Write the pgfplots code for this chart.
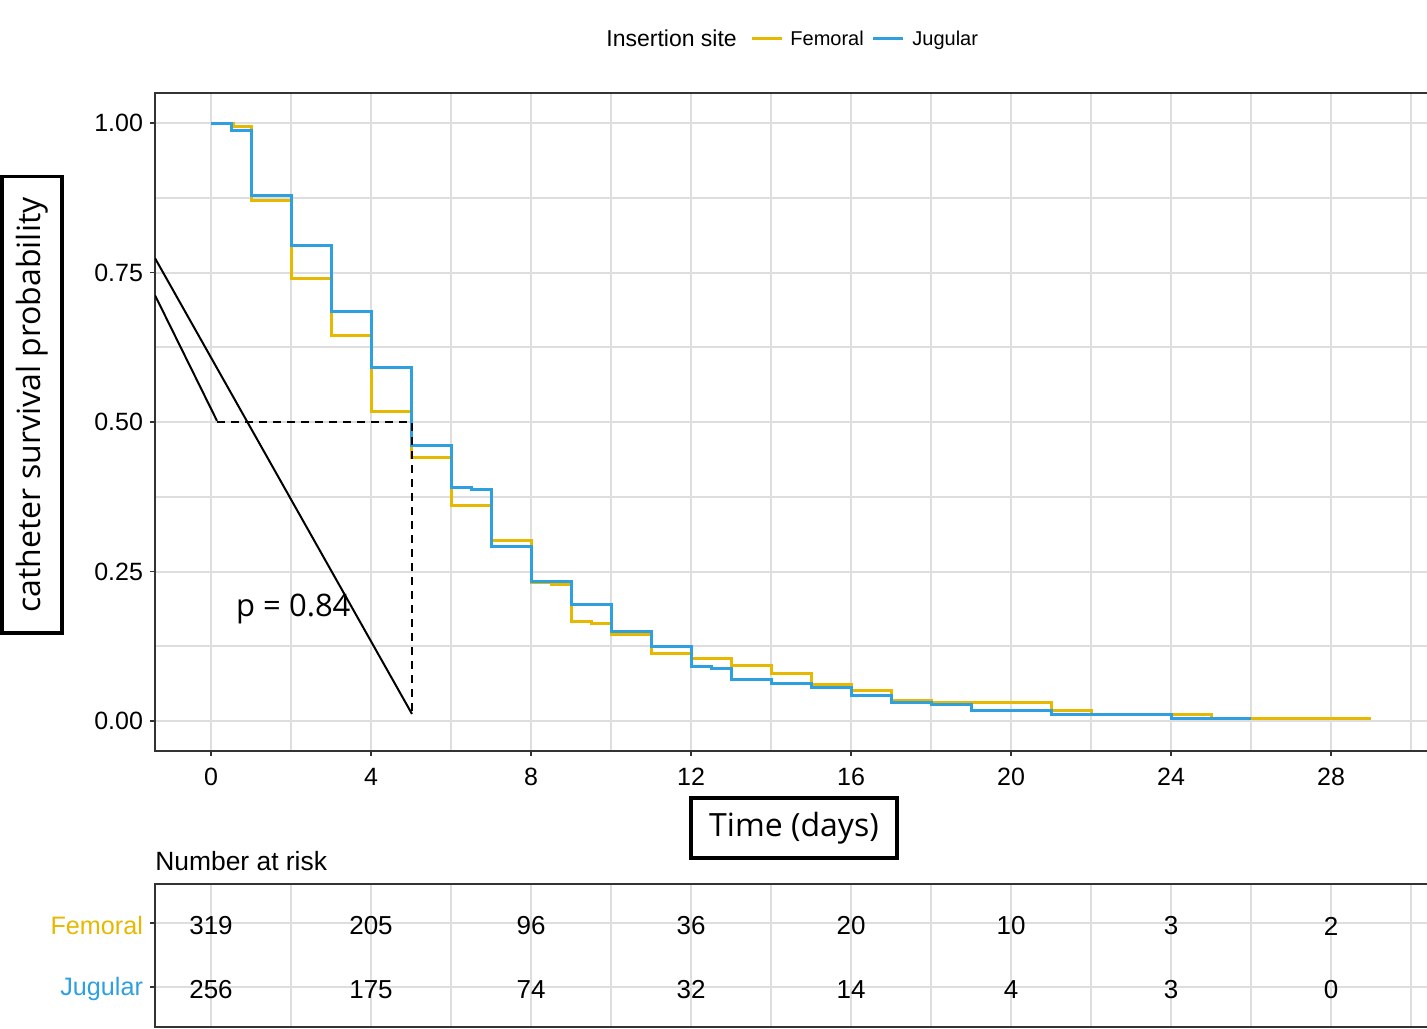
\documentclass[border=0pt]{standalone}
\usepackage{pgfplots}
\pgfplotsset{compat=1.18}
\usepackage{fontspec}
\setmainfont{Liberation Sans}
\newfontfamily\seg{Open Sans}
\definecolor{fem}{HTML}{E7B800}
\definecolor{jug}{HTML}{2E9FDF}
\definecolor{gridc}{HTML}{DEDEDE}
\definecolor{framec}{HTML}{333333}
\begin{document}
\begin{tikzpicture}
\useasboundingbox (0,0) rectangle (713.5pt,-514pt);
\begin{axis}[
  at={(77.5pt,-375.5pt)}, anchor=south west,
  scale only axis, width=638pt, height=329pt,
  xmin=-1.4, xmax=30.5, ymin=-0.0502, ymax=1.0502,
  xtick={0,4,...,28}, minor xtick={2,6,...,30},
  ytick={0,0.25,0.5,0.75,1}, minor ytick={0.125,0.375,0.625,0.875},
  grid=both, grid style={gridc, line width=1pt}, minor grid style={gridc, line width=1pt},
  axis line style={framec, line width=0.7pt},
  tick align=outside, xtick pos=bottom, ytick pos=left,
  major tick length=2.5pt, minor tick length=0pt,
  tick style={framec, line width=0.7pt},
  ticklabel style={font=\fontsize{12.5}{15}\selectfont},
  xticklabel style={yshift=-2.5pt},
  /pgf/number format/assume math mode=true,
  yticklabel style={/pgf/number format/.cd, fixed, fixed zerofill, precision=2},
  xlabel={Time (days)},
  xlabel style={at={(axis description cs:0.5008,-0.117)}, anchor=center, draw=black, line width=1.8pt,
    font=\seg\fontsize{16}{19}\selectfont, minimum width=103pt, minimum height=30pt, inner sep=0pt},
  ylabel={catheter survival probability},
  ylabel style={at={(axis description cs:-0.0964,0.526)}, anchor=center, draw=black, line width=1.6pt,
    font=\seg\fontsize{16}{19}\selectfont, minimum width=228pt, minimum height=30pt, inner sep=0pt},
]
\addplot[const plot, fem, line width=1.5pt] coordinates {
(0,1.0) (0.55,0.994) (1,0.871) (2,0.740) (3,0.644) (4,0.517) (5,0.441) (6,0.361) (7,0.302)
(8,0.231) (8.5,0.228) (9,0.167) (9.5,0.163) (10,0.144) (11,0.113) (12,0.104) (13,0.0925)
(14,0.080) (15,0.061) (16,0.051) (17,0.034) (18,0.031) (21,0.018) (22,0.0105) (25,0.004) (29,0.004)};
\addplot[const plot, jug, line width=1.5pt] coordinates {
(0,1.0) (0.52,0.987) (1,0.879) (2,0.795) (3,0.684) (4,0.591) (5,0.460) (6,0.390) (6.5,0.387)
(7,0.291) (8,0.233) (9,0.195) (10,0.150) (11,0.124) (12,0.091) (12.5,0.087) (13,0.070)
(14,0.062) (15,0.056) (16,0.042) (17,0.031) (18,0.028) (19,0.017) (21,0.0117) (24,0.0045) (26,0.0045)};
\addplot[black, line width=1pt] coordinates {(-1.4,0.774) (5.025,0.0117)};
\addplot[black, line width=1pt] coordinates {(-1.4,0.712) (0.15,0.502)};
\addplot[black, line width=1pt, dash pattern=on 4pt off 3pt] coordinates {(0.15,0.5) (5.02,0.5) (5.02,0.0117)};
\node[anchor=base west, inner sep=0pt, font=\seg\fontsize{15.5}{18}\selectfont] at (axis cs:0.62,0.174) {p = 0.84};
\end{axis}
\begin{axis}[
  at={(77.5pt,-513.5pt)}, anchor=south west,
  scale only axis, width=638pt, height=71.5pt,
  xmin=-1.4, xmax=30.5, ymin=-0.625, ymax=1.609,
  xtick={0,4,...,28}, minor xtick={2,6,...,30}, xticklabels={},
  ytick={0,1}, yticklabels={\textcolor{jug}{Jugular},\textcolor{fem}{Femoral}},
  grid=both, grid style={gridc, line width=1pt}, minor grid style={gridc, line width=1pt},
  axis line style={framec, line width=0.7pt},
  tick align=outside, ytick pos=left,
  major tick length=2.5pt, minor tick length=0pt,
  tick style={framec, line width=0.7pt},
  xtick style={draw=none},
  yticklabel style={font=\fontsize{12.6}{15}\selectfont, yshift=-1pt},
  title={Number at risk},
  title style={at={(axis description cs:0,1)}, anchor=base west, yshift=1pt, inner sep=0pt,
    font=\fontsize{13.2}{16}\selectfont},
]
\addplot[only marks, mark=none, nodes near coords, point meta=explicit symbolic,
  every node near coord/.append style={anchor=center, yshift=-1.5pt, text=black, font=\fontsize{13}{15}\selectfont}]
  coordinates {(0,1)[319] (4,1)[205] (8,1)[96] (12,1)[36] (16,1)[20] (20,1)[10] (24,1)[3] (28,1)[2]
               (0,0)[256] (4,0)[175] (8,0)[74] (12,0)[32] (16,0)[14] (20,0)[4] (24,0)[3] (28,0)[0]};
\end{axis}
\node[anchor=base west, inner sep=0pt, font=\fontsize{11.5}{14}\selectfont] at (303pt,-23pt) {Insertion site};
\draw[fem, line width=1.5pt] (376pt,-19pt) -- (391pt,-19pt);
\node[anchor=base west, inner sep=0pt, font=\fontsize{10}{12}\selectfont] at (395pt,-22.6pt) {Femoral};
\draw[jug, line width=1.5pt] (436.5pt,-19pt) -- (451.5pt,-19pt);
\node[anchor=base west, inner sep=0pt, font=\fontsize{10}{12}\selectfont] at (456pt,-22.6pt) {Jugular};
\end{tikzpicture}
\end{document}
